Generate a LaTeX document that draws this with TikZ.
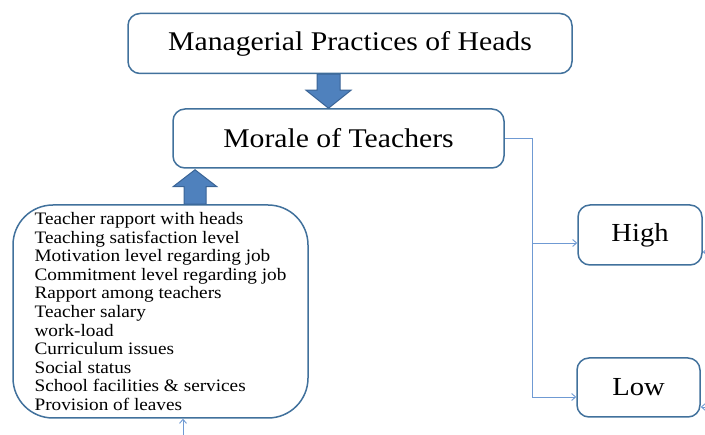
\documentclass[tikz,border=0pt]{standalone}
\usepackage{fontspec}
\setmainfont{Liberation Serif}[FakeStretch=1.1]
\usetikzlibrary{arrows.meta,calc}
\definecolor{boxline}{HTML}{41719C}
\definecolor{arrowfill}{HTML}{4F81BD}
\definecolor{arrowline}{HTML}{3A6496}
\definecolor{linkline}{HTML}{6F9AD3}

\begin{document}
\begin{tikzpicture}[x=1pt,y=-1pt,
  box/.style={draw=boxline,line width=1.5pt,rounded corners=12pt,fill=white,inner sep=0pt},
  headfont/.style={font=\fontsize{27}{32}\selectfont},
  levelfont/.style={font=\fontsize{26}{30}\selectfont},
  blockarrow/.style={fill=arrowfill,draw=arrowline,line width=1pt,line join=miter},
  link/.style={draw=linkline,line width=0.9pt,-{Straight Barb[length=4pt,width=7pt]}},
]
\useasboundingbox (0,0) rectangle (705,435);

% boxes
\node[box,headfont,minimum width=444pt,minimum height=60pt] (mph) at (350,43.5) {Managerial Practices of Heads};
\node[box,headfont,minimum width=331pt,minimum height=59pt] (mor) at (338.5,138.5) {Morale of Teachers};
\node[box,levelfont,minimum width=124pt,minimum height=60pt] (high) at (640,235) {High};
\node[box,levelfont,minimum width=123pt,minimum height=59pt] (low) at (638.5,387.5) {Low};
\node[box,rounded corners=40pt,minimum width=295pt,minimum height=213pt,
      align=left,font=\fontsize{17.5}{18.6}\selectfont] (fac) at (160.5,311.5)
  {Teacher rapport with heads\\
   Teaching satisfaction level\\
   Motivation level regarding job\\
   Commitment level regarding job\\
   Rapport among teachers\\
   Teacher salary\\
   work-load\\
   Curriculum issues\\
   Social status\\
   School facilities \& services\\
   Provision of leaves};

% block arrow: practices -> morale
\coordinate (dx) at (328.5,100);
\coordinate (dtip) at (dx |- mor.north);
\draw[blockarrow] ($(dx |- mph.south)+(-11.5,0)$) -- ($(dtip)+(-11.5,-18)$) -- ($(dtip)+(-22.5,-18)$)
  -- (dtip) -- ($(dtip)+(22.5,-18)$) -- ($(dtip)+(11.5,-18)$) -- ($(dx |- mph.south)+(11.5,0)$) -- cycle;

% block arrow: factors -> morale
\coordinate (ux) at (195,190);
\coordinate (utip) at ($(ux |- mor.south)+(0,1)$);
\draw[blockarrow] ($(ux |- fac.north)+(-11,0)$) -- ($(utip)+(-11,17)$) -- ($(utip)+(-22,17)$)
  -- (utip) -- ($(utip)+(22,17)$) -- ($(utip)+(11,17)$) -- ($(ux |- fac.north)+(11,0)$) -- cycle;

% morale -> high / low
\coordinate (bus) at (532,200);
\coordinate (hin) at ($(high.west)+(0,8)$);
\coordinate (lin) at ($(low.west)+(0,9.5)$);
\draw[link] (mor.east) -- (mor.east -| bus) |- (lin);
\draw[link] (bus |- hin) -- (hin);

% incoming stubs
\coordinate (hout) at (715,252);
\coordinate (lout) at (715,407);
\coordinate (bout) at (183,448);
\draw[link] (hout) -- (hout -| high.east);
\draw[link] (lout) -- (lout -| low.east);
\draw[link] (bout) -- (bout |- fac.south);
\end{tikzpicture}
\end{document}
